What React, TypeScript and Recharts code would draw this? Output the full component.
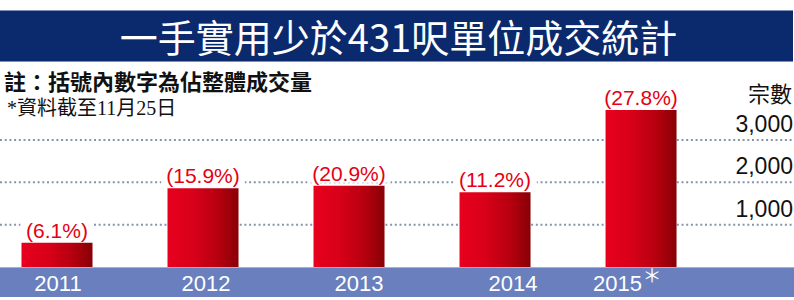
import React from 'react';
import { BarChart, Bar, XAxis, YAxis, CartesianGrid, LabelList } from 'recharts';

const years = [2011, 2012, 2013, 2014, 2015];
const counts = [575, 1860, 1920, 1765, 3710];
const shares = ['6.1%', '15.9%', '20.9%', '11.2%', '27.8%'];
const yTicks = [1000, 2000, 3000];
const title = '一手實用少於431呎單位成交統計';
const note1 = '註：括號內數字為佔整體成交量';
const note2 = '*資料截至11月25日';
const yUnit = '宗數';
const partialYear = 2015;

const data = years.map((y, i) => ({ year: y, count: counts[i], share: shares[i] }));

// visual tweak of year label positions (style only)
const tickShift: Record<number, number> = { 2011: 1.5, 2012: 3.5, 2013: 10.5, 2014: 18.5, 2015: -23 };

const W = 794;
const H = 300;
const AXIS_FONT = "'Liberation Sans', Arial, sans-serif";
const CJK_FONT = "'Noto Sans CJK TC', 'Noto Sans CJK SC', sans-serif";

const XTick = (props: any) => {
  const { x, y, payload } = props;
  const v = payload.value as number;
  const cx = x + (tickShift[v] || 0);
  return (
    <g>
      <text x={cx} y={y + 24} textAnchor="middle" fill="#ffffff" fontSize={22} fontFamily={AXIS_FONT}>
        {String(v)}
      </text>
      {v === partialYear ? (
        <text x={cx + 25} y={y + 16} textAnchor="start" fill="#ffffff" fontSize={19} fontFamily={CJK_FONT}>
          ＊
        </text>
      ) : null}
    </g>
  );
};

const YTick = (props: any) => {
  const { y, payload } = props;
  return (
    <text x={W - 1} y={y - 8} textAnchor="end" fill="#111" fontSize={23} fontFamily={AXIS_FONT}>
      {Number(payload.value).toLocaleString('en-US')}
    </text>
  );
};

const ShareLabel = (props: any) => {
  const { x, y, width, value } = props;
  const cx = Number(x) + Number(width) / 2;
  const txt = `(${value})`;
  const rw = txt.length * 10.5 + 10;
  return (
    <g>
      <rect x={cx - rw / 2} y={Number(y) - 26} width={rw} height={23} fill="#ffffff" />
      <text x={cx} y={Number(y) - 5} textAnchor="middle" fill="#e60012" fontSize={21} fontFamily={AXIS_FONT}>
        {txt}
      </text>
    </g>
  );
};

export default function App() {
  return (
    <div style={{ position: 'absolute', left: 0, top: 0, width: W, height: H, background: '#fff', overflow: 'hidden' }}>
      <div
        style={{
          position: 'absolute', left: 0, top: 10, width: 793, height: 50,
          background: '#0b2a6e', borderTop: '1px solid #7d8fb8', borderBottom: '1px solid #7d8fb8',
          color: '#fff', fontFamily: CJK_FONT, fontSize: 38, lineHeight: '50px', textAlign: 'center',
        }}
      >
        <span style={{ position: 'relative', left: 2 }}>{title}</span>
      </div>
      <div style={{ position: 'absolute', left: 4, top: 65, fontFamily: CJK_FONT, fontSize: 22, fontWeight: 700, color: '#111', lineHeight: '30px', whiteSpace: 'nowrap' }}>
        {note1}
      </div>
      <div style={{ position: 'absolute', left: 7, top: 95, fontFamily: "'Liberation Serif', " + CJK_FONT, fontSize: 20, color: '#111', lineHeight: '26px', whiteSpace: 'nowrap' }}>
        {note2}
      </div>
      <div style={{ position: 'absolute', right: 2, top: 78, fontFamily: CJK_FONT, fontSize: 22, color: '#111', lineHeight: '28px' }}>
        {yUnit}
      </div>
      <div style={{ position: 'absolute', left: 0, top: 267, width: W, height: 30, background: '#6a7fbd', borderTop: '1px solid #a4b1d6', boxSizing: 'border-box' }} />
      <div style={{ position: 'absolute', left: 0, top: 0 }}>
        <BarChart width={W} height={H} data={data} margin={{ top: 97.67, right: 0, bottom: 0, left: 0 }}>
          <defs>
            <linearGradient id="barGrad" x1="0" y1="0" x2="1" y2="0">
              <stop offset="0%" stopColor="#e8001e" />
              <stop offset="35%" stopColor="#d9001a" />
              <stop offset="70%" stopColor="#b80010" />
              <stop offset="100%" stopColor="#880006" />
            </linearGradient>
          </defs>
          <CartesianGrid
            vertical={false}
            horizontalValues={yTicks}
            stroke="#8595ab"
            strokeWidth={2}
            strokeDasharray="2 2.7"
          />
          <XAxis
            dataKey="year"
            type="number"
            domain={[2010.613, 2016.051]}
            allowDataOverflow
            ticks={years}
            height={33}
            axisLine={false}
            tickLine={false}
            tickSize={0}
            tickMargin={0}
            tick={<XTick />}
            interval={0}
          />
          <YAxis
            orientation="right"
            mirror
            width={1}
            domain={[0, 4000]}
            ticks={yTicks}
            axisLine={false}
            tickLine={false}
            tick={<YTick />}
            interval={0}
          />
          <Bar dataKey="count" fill="url(#barGrad)" barSize={71} isAnimationActive={false}>
            <LabelList dataKey="share" content={<ShareLabel />} />
          </Bar>
        </BarChart>
      </div>
    </div>
  );
}
